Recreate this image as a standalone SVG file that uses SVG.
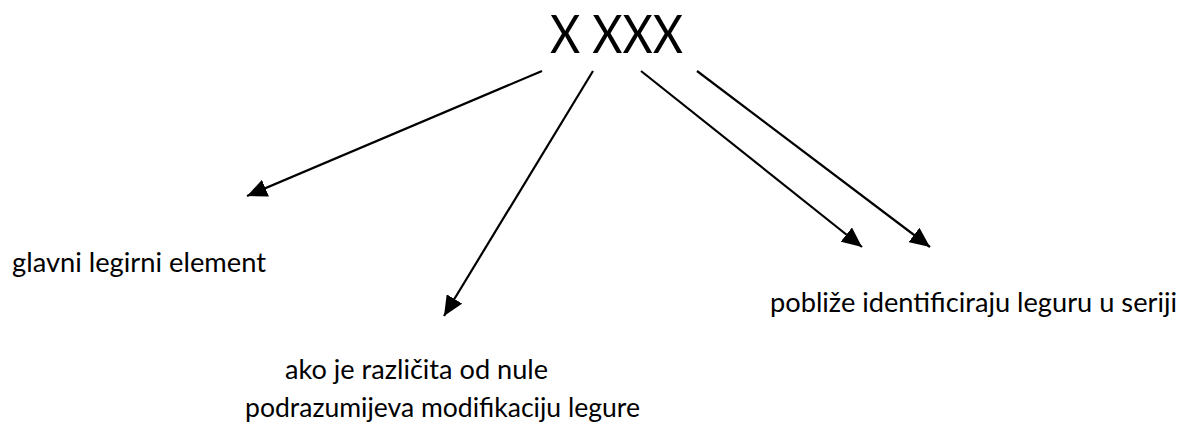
<svg xmlns="http://www.w3.org/2000/svg" width="1184" height="426" viewBox="0 0 1184 426">
<style>
.t{font-family:Lato,"Open Sans","Liberation Sans",sans-serif;fill:#000;font-size:27px}
.title{font-family:Lato,"Liberation Sans",sans-serif;fill:#000;font-size:52px}
.c{stroke:#000;stroke-width:2.2;fill:none;marker-end:url(#ah)}
</style>
<defs>
<marker id="ah" markerUnits="userSpaceOnUse" markerWidth="22" markerHeight="18" refX="20" refY="9" orient="auto">
<path d="M0,0 L20,9 L0,18 Z" fill="#000"/>
</marker>
</defs>
<rect width="1184" height="426" fill="#fff"/>
<g id="title"><text class="title" x="550" y="53" textLength="133" lengthAdjust="spacingAndGlyphs">X XXX</text></g>
<g id="connectors">
<line class="c" x1="542" y1="71" x2="247" y2="196"/>
<line class="c" x1="593" y1="71" x2="444" y2="316"/>
<line class="c" x1="641" y1="71" x2="862" y2="247"/>
<line class="c" x1="697" y1="71" x2="930" y2="247"/>
</g>
<g id="n1"><text class="t" x="12" y="272" textLength="254" lengthAdjust="spacingAndGlyphs">glavni legirni element</text></g>
<g id="n2"><text class="t" x="285" y="379" textLength="263" lengthAdjust="spacingAndGlyphs">ako je različita od nule</text>
<text class="t" x="245" y="417" textLength="395" lengthAdjust="spacingAndGlyphs">podrazumijeva modifikaciju legure</text></g>
<g id="n3"><text class="t" x="770" y="312" textLength="407" lengthAdjust="spacingAndGlyphs">pobliže identificiraju leguru u seriji</text></g>
</svg>
